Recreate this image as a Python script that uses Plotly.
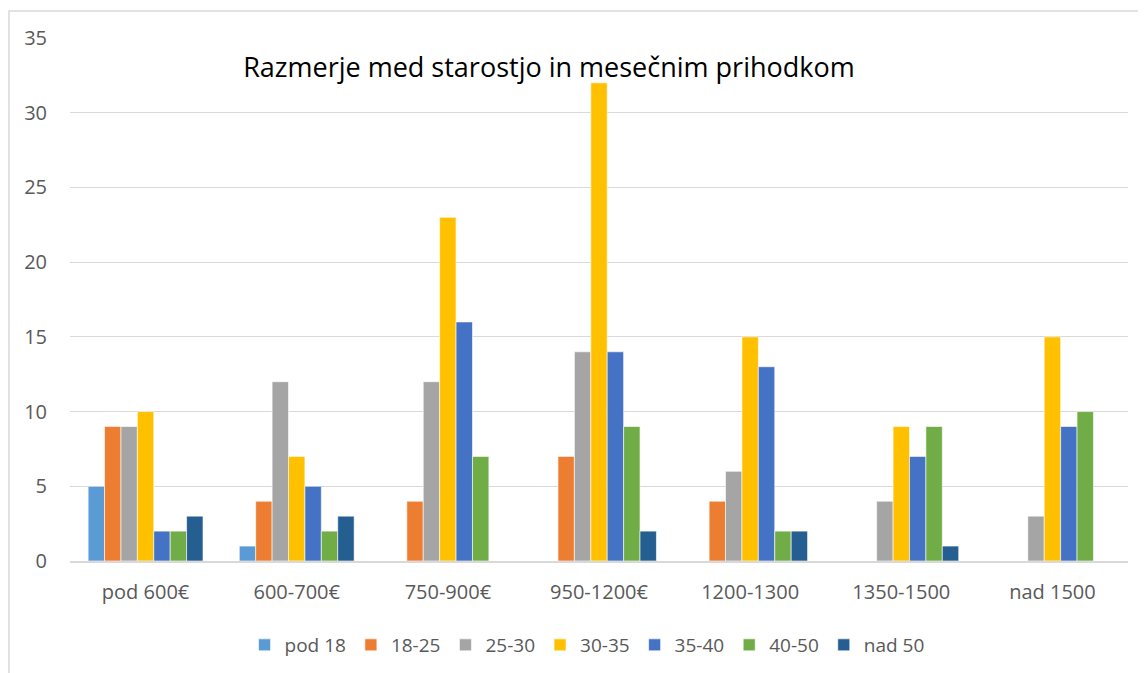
import plotly.graph_objects as go

kategorije = ["pod 600€", "600-700€", "750-900€", "950-1200€", "1200-1300", "1350-1500", "nad 1500"]

pod_18 = [5, 1, 0, 0, 0, 0, 0]
s18_25 = [9, 4, 4, 7, 4, 0, 0]
s25_30 = [9, 12, 12, 14, 6, 4, 3]
s30_35 = [10, 7, 23, 32, 15, 9, 15]
s35_40 = [2, 5, 16, 14, 13, 7, 9]
s40_50 = [2, 2, 7, 9, 2, 9, 10]
nad_50 = [3, 3, 0, 2, 2, 1, 0]

serije = [
    ("pod 18", pod_18, "#5B9BD5"),
    ("18-25", s18_25, "#ED7D31"),
    ("25-30", s25_30, "#A5A5A5"),
    ("30-35", s30_35, "#FFC000"),
    ("35-40", s35_40, "#4472C4"),
    ("40-50", s40_50, "#70AD47"),
    ("nad 50", nad_50, "#255E91"),
]

fig = go.Figure()
for ime, vrednosti, barva in serije:
    fig.add_trace(go.Bar(
        x=kategorije, y=vrednosti, name=ime,
        marker=dict(color=barva, line=dict(color="white", width=0.6)),
    ))

# page has an 8px body margin, so the margins are pulled in by 8px
fig.update_layout(
    width=1146, height=673,
    margin=dict(l=62, r=26, t=30, b=120),
    paper_bgcolor="white", plot_bgcolor="white",
    barmode="group", bargap=0.24, bargroupgap=0,
    font=dict(family="Open Sans, Liberation Sans, sans-serif", size=20, color="#595959"),
    title=dict(text="Razmerje med starostjo in mesečnim prihodkom",
               x=0.4527, xref="paper", xanchor="center",
               y=0.9426, yref="paper", yanchor="middle",
               font=dict(size=27, color="black")),
    legend=dict(orientation="h", x=0.4887, xanchor="center", y=-0.1606, yanchor="middle",
                font=dict(size=19, color="#595959"), itemwidth=30, traceorder="normal"),
    shapes=[dict(type="rect", xref="paper", yref="paper",
                 x0=(1 - 62) / 1058, x1=1.1, y0=-0.3, y1=1 + 27 / 523,
                 line=dict(color="#D9D9D9", width=1.5), layer="below")],
)
fig.update_xaxes(showgrid=False, showline=True, linecolor="#D9D9D9", linewidth=1.5,
                 ticks="", ticklabelstandoff=12)
fig.update_yaxes(range=[0, 35], dtick=5, showgrid=True, gridcolor="#D9D9D9", gridwidth=1,
                 zeroline=False, showline=False, ticks="", ticklabelstandoff=22)

fig.write_html("out.html")
